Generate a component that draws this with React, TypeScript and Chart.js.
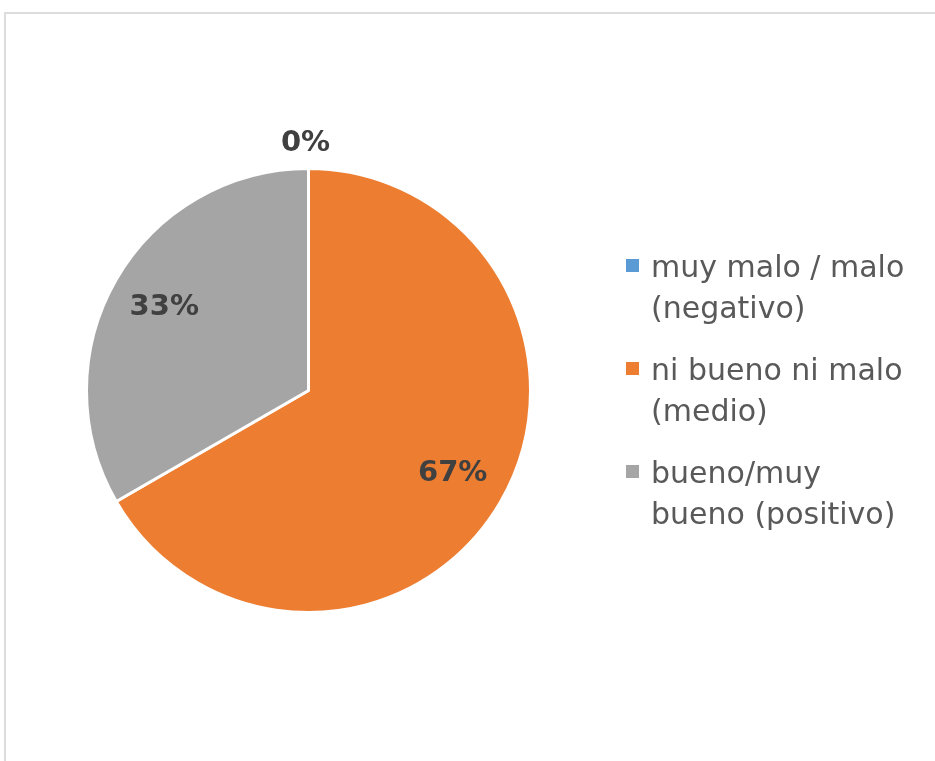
import React, { useEffect, useRef } from "react";
import { Chart, registerables } from "chart.js";

Chart.register(...registerables);

const categories: string[][] = [
  ["muy malo / malo", "(negativo)"],
  ["ni bueno ni malo", "(medio)"],
  ["bueno/muy", "bueno (positivo)"],
];
const values: number[] = [0, 2, 1];
const colors: string[] = ["#5B9BD5", "#ED7D31", "#A5A5A5"];

const labelPlugin = {
  id: "sliceLabels",
  afterDatasetsDraw(chart: any) {
    const ctx = chart.ctx;
    const meta = chart.getDatasetMeta(0);
    const data = chart.data.datasets[0].data as number[];
    const total = data.reduce((a, b) => a + b, 0);
    ctx.save();
    ctx.font = "bold 29px 'DejaVu Sans'";
    ctx.fillStyle = "#404040";
    ctx.textAlign = "center";
    ctx.textBaseline = "middle";
    meta.data.forEach((arc: any, i: number) => {
      const p = arc.getProps(["x", "y", "startAngle", "endAngle", "outerRadius"], true);
      const mid = (p.startAngle + p.endAngle) / 2;
      const r = data[i] === 0 ? p.outerRadius + 25 : p.outerRadius * 0.75;
      const x = p.x + Math.cos(mid) * r - (data[i] === 0 ? 3 : 0);
      const y = p.y + Math.sin(mid) * r;
      const pct = Math.round((data[i] / total) * 100) + "%";
      ctx.fillText(pct, x, y);
    });
    ctx.restore();
  },
};

const legendPlugin = {
  id: "customLegend",
  afterDraw(chart: any) {
    const ctx = chart.ctx;
    const labels = chart.data.labels as string[][];
    const bg = chart.data.datasets[0].backgroundColor as string[];
    const x0 = 626;
    const baseTop = 277;
    const itemGap = 103;
    const lineGap = 41;
    ctx.save();
    ctx.font = "30px 'DejaVu Sans'";
    ctx.textBaseline = "alphabetic";
    ctx.textAlign = "left";
    labels.forEach((lines, i) => {
      const b = baseTop + i * itemGap;
      ctx.fillStyle = bg[i];
      ctx.fillRect(x0, b - 18, 13, 13);
      ctx.fillStyle = "#595959";
      lines.forEach((t, j) => {
        ctx.fillText(t, x0 + 25, b + j * lineGap);
      });
    });
    ctx.restore();
  },
};

export default function App() {
  const ref = useRef<HTMLCanvasElement | null>(null);
  useEffect(() => {
    if (!ref.current) return;
    const chart = new Chart(ref.current, {
      type: "pie",
      data: {
        labels: categories,
        datasets: [
          {
            data: values,
            backgroundColor: colors,
            borderColor: "#ffffff",
            borderWidth: 3,
          },
        ],
      },
      options: {
        animation: false,
        responsive: false,
        layout: { padding: { left: 85, top: 167, right: 403, bottom: 147 } },
        plugins: {
          legend: { display: false },
          tooltip: { enabled: false },
        },
      },
      plugins: [labelPlugin, legendPlugin],
    });
    return () => chart.destroy();
  }, []);
  return (
    <div style={{ position: "fixed", left: 0, top: 0, width: 935, height: 761, background: "#fff" }}>
      <canvas ref={ref} width={935} height={761} style={{ position: "absolute", left: 0, top: 0 }} />
      <div
        style={{
          position: "absolute",
          left: 4,
          top: 12,
          width: 960,
          height: 780,
          borderLeft: "2px solid #dcdcdc",
          borderTop: "2px solid #dcdcdc",
          pointerEvents: "none",
        }}
      />
    </div>
  );
}
